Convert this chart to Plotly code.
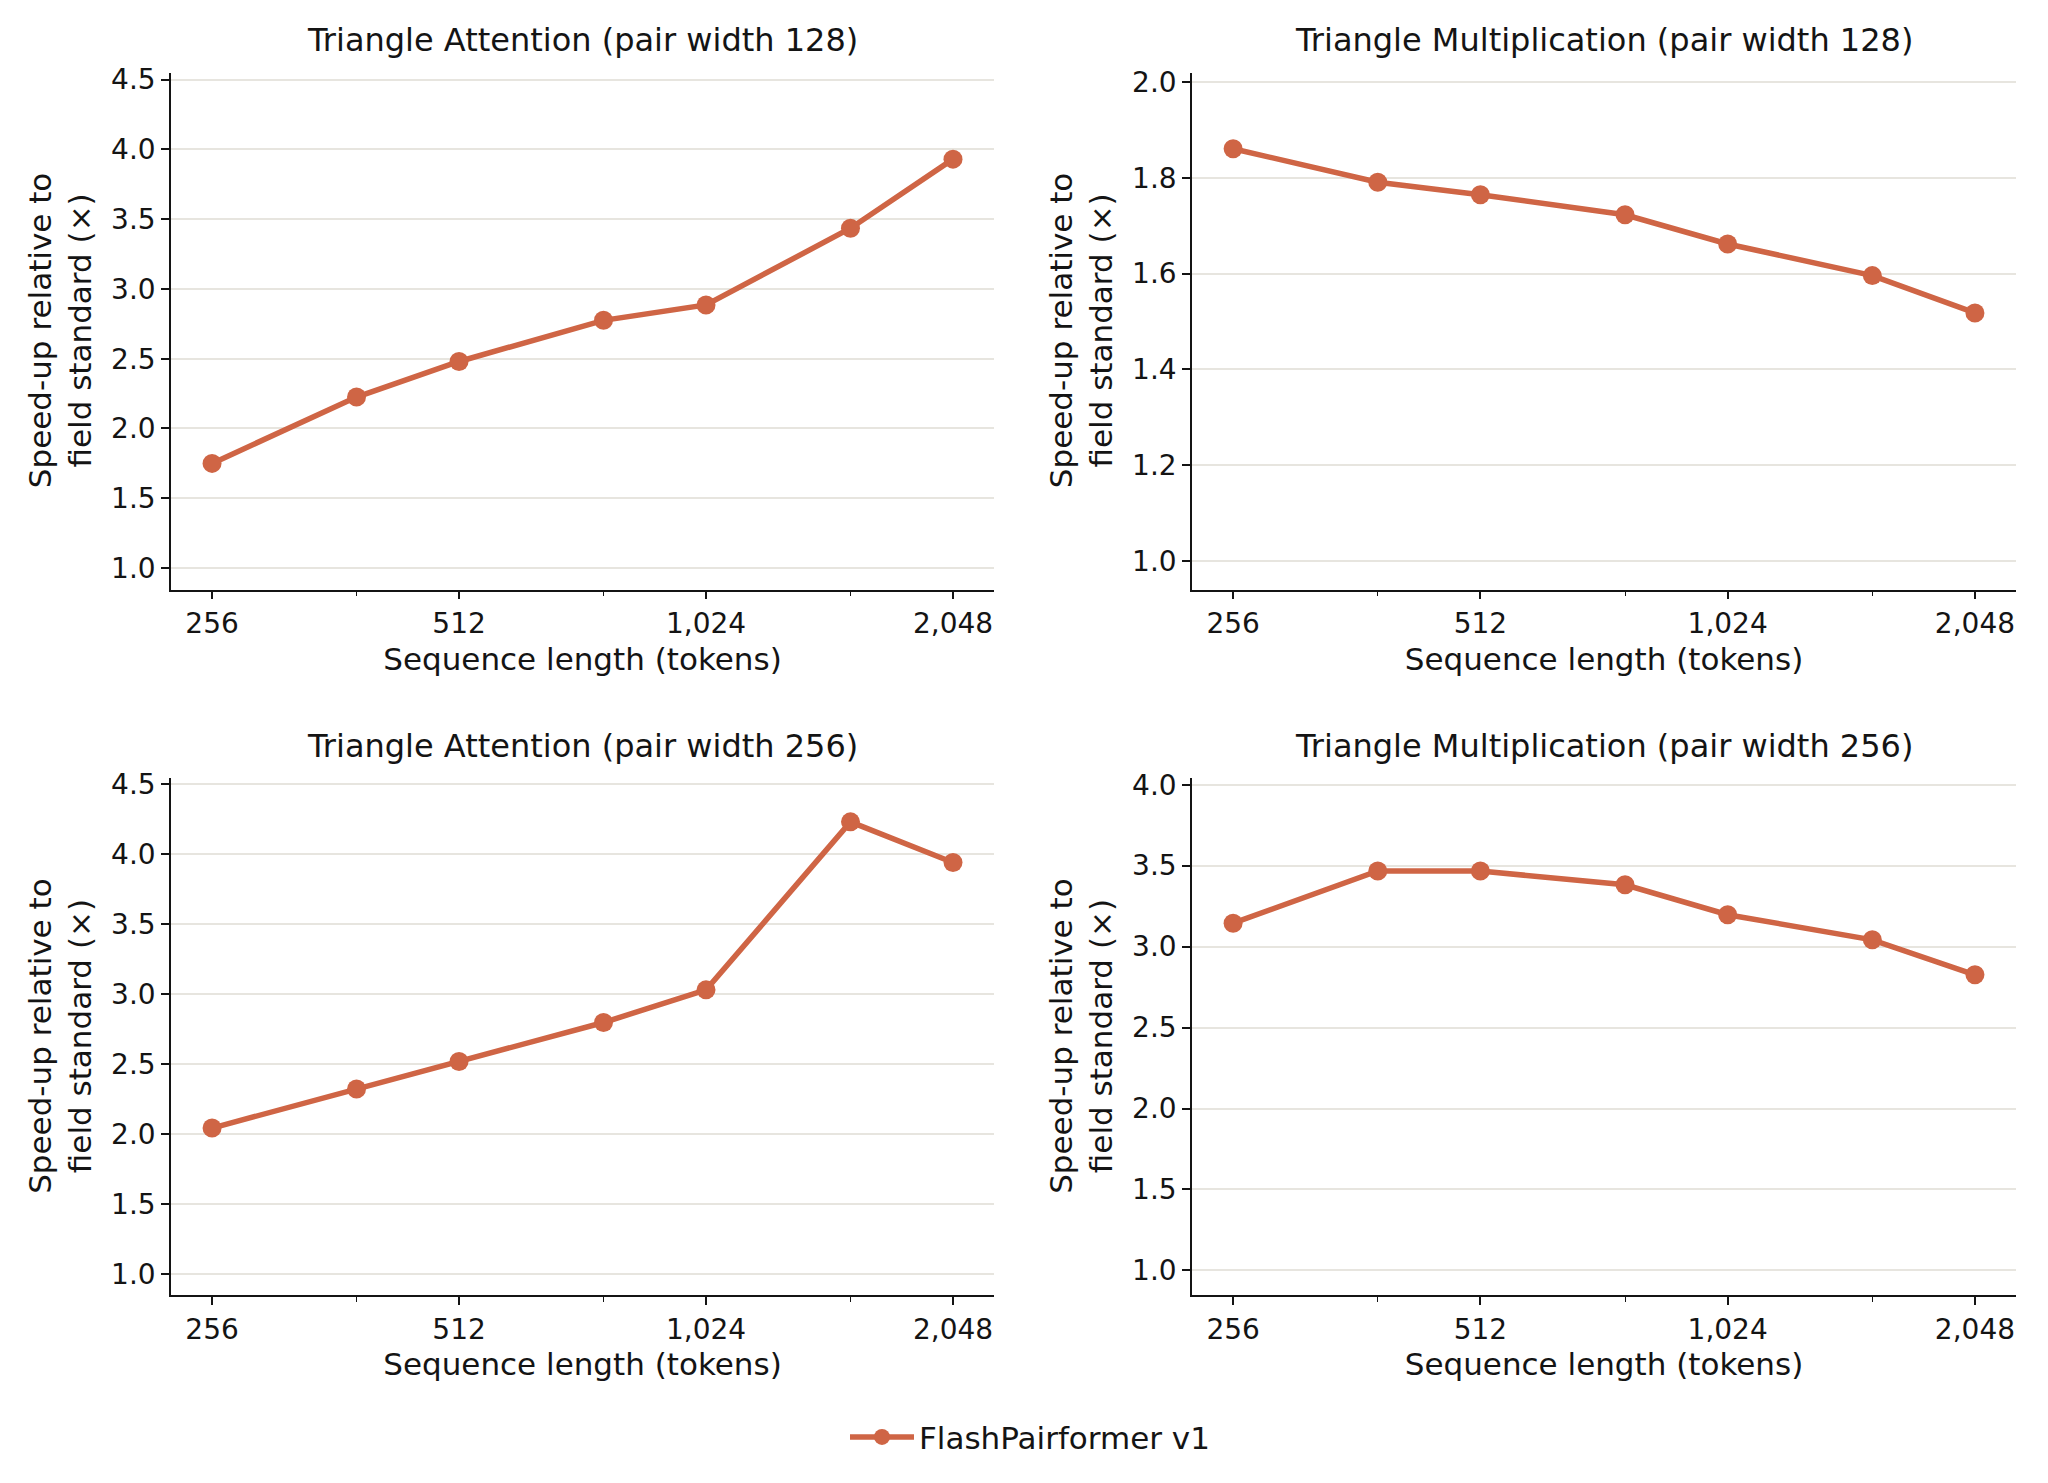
import plotly.graph_objects as go

# sequence lengths (tokens)
seq_len = [256, 384, 512, 768, 1024, 1536, 2048]

# speed-up relative to the field standard
attn_128 = [1.75, 2.225, 2.48, 2.775, 2.885, 3.435, 3.93]
mult_128 = [1.861, 1.791, 1.765, 1.723, 1.662, 1.596, 1.518]
attn_256 = [2.044, 2.322, 2.519, 2.797, 3.03, 4.229, 3.939]
mult_256 = [3.145, 3.467, 3.467, 3.382, 3.197, 3.042, 2.826]

panel_titles = [
    "Triangle Attention (pair width 128)",
    "Triangle Multiplication (pair width 128)",
    "Triangle Attention (pair width 256)",
    "Triangle Multiplication (pair width 256)",
]
major_ticks = [256, 512, 1024, 2048]
major_text = ["256", "512", "1,024", "2,048"]
minor_ticks = [384, 768, 1536]

series_name = "FlashPairformer v1"
COLOR = "#CF6545"
FONT = "DejaVu Sans"
INK = "#141414"

# page body keeps its default 8px margin, so the figure is 16px smaller
W, H = 2032, 1467
x_domains = [[163 / W, 986 / W], [1184 / W, 2008 / W]]
y_domains = [[1 - 575 / H, 1 - 54 / H], [1 - 1286 / H, 1 - 765 / H]]
y_ranges = [[0.845, 4.55], [0.94, 2.02], [0.85, 4.54], [0.846, 4.04]]
y_dticks = [0.5, 0.2, 0.5, 0.5]
x_range = [2.3582, 3.3613]

series = [attn_128, mult_128, attn_256, mult_256]

fig = go.Figure()
for i, ys in enumerate(series):
    n = "" if i == 0 else str(i + 1)
    fig.add_trace(go.Scatter(
        x=seq_len, y=ys, mode="lines+markers", name=series_name,
        line=dict(color=COLOR, width=5.5),
        marker=dict(color=COLOR, size=19),
        xaxis="x" + n, yaxis="y" + n, showlegend=(i == 0),
    ))

layout = dict(
    width=W, height=H,
    margin=dict(l=0, r=0, t=0, b=0),
    paper_bgcolor="white", plot_bgcolor="white",
    font=dict(family=FONT, size=28, color=INK),
    legend=dict(orientation="h", x=1022 / W, y=1 - 1429 / H,
                xanchor="center", yanchor="middle", itemwidth=64,
                font=dict(size=31, color=INK)),
    annotations=[],
)

for i in range(4):
    n = "" if i == 0 else str(i + 1)
    col, row = i % 2, i // 2
    layout["xaxis" + n] = dict(
        type="log", domain=x_domains[col], range=x_range,
        anchor="y" + n,
        tickvals=major_ticks, ticktext=major_text,
        ticks="outside", ticklen=8, tickwidth=1.5, tickcolor=INK,
        minor=dict(tickvals=minor_ticks, ticks="outside", ticklen=5,
                   tickwidth=1.2, tickcolor=INK, showgrid=False),
        showline=True, linecolor=INK, linewidth=1.6,
        showgrid=False, zeroline=False,
        tickfont=dict(size=28, color=INK),
        title=dict(text="Sequence length (tokens)",
                   font=dict(size=31, color=INK), standoff=9),
    )
    layout["yaxis" + n] = dict(
        domain=y_domains[row], range=y_ranges[i],
        anchor="x" + n, dtick=y_dticks[i], tick0=0, tickformat=".1f",
        ticks="outside", ticklen=8, tickwidth=1.5, tickcolor=INK,
        showline=True, linecolor=INK, linewidth=1.6,
        showgrid=True, gridcolor="#E7E5DF", gridwidth=1.5,
        zeroline=False, tickfont=dict(size=28, color=INK),
    )
    xd, yd = x_domains[col], y_domains[row]
    layout["annotations"].append(dict(
        text=panel_titles[i], xref="paper", yref="paper",
        x=(xd[0] + xd[1]) / 2, y=yd[1] + 33 / H,
        xanchor="center", yanchor="middle", showarrow=False,
        font=dict(size=32, color=INK),
    ))
    layout["annotations"].append(dict(
        text="Speed-up relative to<br>field standard (×)",
        xref="paper", yref="paper",
        x=xd[0] - 111 / W, y=(yd[0] + yd[1]) / 2,
        xanchor="center", yanchor="middle", textangle=-90,
        showarrow=False, font=dict(size=31, color=INK),
    ))

fig.update_layout(layout)
fig.write_html("out.html")
